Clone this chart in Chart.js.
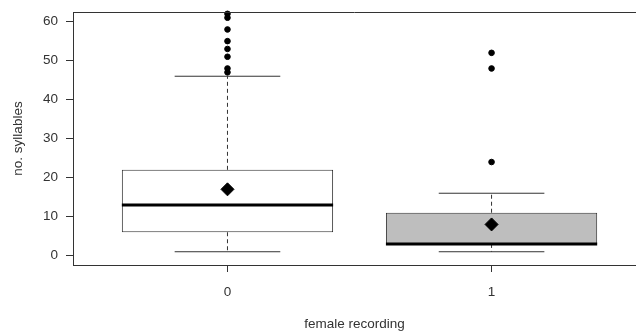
<!DOCTYPE html>
<html>
<head>
<meta charset="utf-8">
<script src="https://cdn.jsdelivr.net/npm/chart.js@4/dist/chart.umd.min.js"></script>
<style>
  html, body { margin: 0; padding: 0; background: #fff; overflow: hidden; }
</style>
</head>
<body>
<canvas id="syllableChart" width="636" height="333"></canvas>
<script>
// --- data ---
const categories = [0, 1];
const categoryLabels = ['0', '1'];
const lowerWhisker = [1, 1];
const q1 = [6, 3];
const median = [13, 3];
const q3 = [22, 11];
const upperWhisker = [46, 16];
const means = [17, 8];
const outliers0 = [62, 61, 58, 55, 53, 51, 48, 47];
const outliers1 = [52, 48, 24];
const yTicks = [0, 10, 20, 30, 40, 50, 60];
const boxFills = ['#ffffff', '#bebebe'];

const BOX_HALF = 0.4;  // box is 0.8 of the group spacing
const CAP_HALF = 0.2;  // whisker caps are half the box width
const INK = '#333';
const FONT = { family: '"Liberation Sans", Arial, sans-serif', size: 13.5 };

// helper: a two point line dataset
function seg(points, extra) {
    return Object.assign({
        type: 'line',
        data: points,
        borderColor: INK,
        borderWidth: 1,
        pointRadius: 0,
        fill: false,
        order: 3
    }, extra || {});
}

const datasets = [];

// boxes (floating bars from q1 to q3)
datasets.push({
    type: 'bar',
    data: categories.map((c, i) => ({ x: c, y: [q1[i], q3[i]] })),
    backgroundColor: boxFills,
    borderColor: INK,
    borderWidth: 1,
    borderSkipped: false,
    categoryPercentage: 1,
    barPercentage: 0.8,
    grouped: false,
    order: 5
});

categories.forEach((c, i) => {
    // dashed whiskers
    datasets.push(seg([{ x: c, y: q3[i] }, { x: c, y: upperWhisker[i] }], { borderDash: [4, 3], order: 4 }));
    datasets.push(seg([{ x: c, y: q1[i] }, { x: c, y: lowerWhisker[i] }], { borderDash: [4, 3], order: 4 }));
    // caps
    datasets.push(seg([{ x: c - CAP_HALF, y: upperWhisker[i] }, { x: c + CAP_HALF, y: upperWhisker[i] }]));
    datasets.push(seg([{ x: c - CAP_HALF, y: lowerWhisker[i] }, { x: c + CAP_HALF, y: lowerWhisker[i] }]));
    // median
    datasets.push(seg([{ x: c - BOX_HALF, y: median[i] }, { x: c + BOX_HALF, y: median[i] }],
        { borderColor: '#000', borderWidth: 3, order: 2 }));
});

// outliers
datasets.push({
    type: 'scatter',
    data: outliers0.map(v => ({ x: categories[0], y: v }))
        .concat(outliers1.map(v => ({ x: categories[1], y: v }))),
    backgroundColor: '#000',
    borderColor: '#000',
    pointRadius: 2.8,
    pointHoverRadius: 2.8,
    clip: false,
    order: 1
});

// means
datasets.push({
    type: 'scatter',
    data: categories.map((c, i) => ({ x: c, y: means[i] })),
    pointStyle: 'rectRot',
    backgroundColor: '#000',
    borderColor: '#000',
    pointRadius: 6.5,
    pointHoverRadius: 6.5,
    order: 1
});

// top edge of the plot frame (right edge falls off the picture)
const framePlugin = {
    id: 'frame',
    afterDraw(chart) {
        const { ctx, chartArea } = chart;
        ctx.save();
        ctx.strokeStyle = INK;
        ctx.lineWidth = 1;
        ctx.beginPath();
        ctx.moveTo(chartArea.left, chartArea.top + 0.5);
        ctx.lineTo(chartArea.right, chartArea.top + 0.5);
        ctx.stroke();
        ctx.restore();
    }
};

new Chart(document.getElementById('syllableChart'), {
    type: 'bar',
    data: { datasets: datasets },
    plugins: [framePlugin],
    options: {
        responsive: false,
        animation: false,
        layout: { autoPadding: false, padding: { top: 12, right: 0, left: 0, bottom: 0 } },
        plugins: {
            legend: { display: false },
            tooltip: { enabled: false }
        },
        scales: {
            x: {
                type: 'linear',
                offset: false,
                min: -0.585,
                max: 1.547,
                grid: { offset: false, drawOnChartArea: false, drawTicks: true, tickLength: 7, color: INK },
                border: { display: true, color: INK },
                afterBuildTicks: (scale) => { scale.ticks = categories.map(v => ({ value: v })); },
                afterFit: (scale) => { scale.height = 68; scale.paddingLeft = 0; scale.paddingRight = 0; },
                ticks: {
                    autoSkip: false,
                    maxRotation: 0,
                    padding: 12,
                    color: INK,
                    font: FONT,
                    callback: (value) => categoryLabels[categories.indexOf(value)]
                },
                title: {
                    display: true,
                    text: 'female recording',
                    color: INK,
                    font: FONT,
                    padding: { top: 0, bottom: 1 }
                }
            },
            y: {
                type: 'linear',
                min: -2.4,
                max: 62.47,
                grid: { drawOnChartArea: false, drawTicks: true, tickLength: 7, color: INK },
                border: { display: true, color: INK },
                afterBuildTicks: (scale) => { scale.ticks = yTicks.map(v => ({ value: v })); },
                afterFit: (scale) => { scale.width = 73; scale.paddingTop = 0; scale.paddingBottom = 0; },
                ticks: {
                    autoSkip: false,
                    padding: 8,
                    color: INK,
                    font: FONT
                },
                title: {
                    display: true,
                    text: 'no. syllables',
                    color: INK,
                    font: FONT,
                    padding: { top: 10, bottom: 0 }
                }
            }
        }
    }
});
</script>
</body>
</html>
